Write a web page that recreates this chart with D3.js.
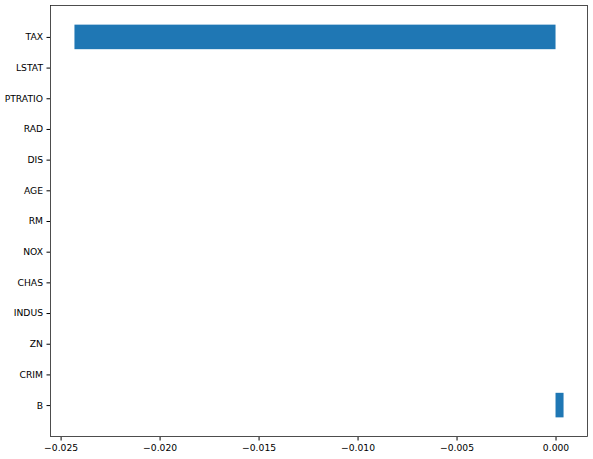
<!doctype html>
<html lang="en">
<head>
	<meta charset="utf-8">
	<title>Coefficients</title>
	<script type="text/javascript" src="https://d3js.org/d3.v7.min.js"></script>
	<style>
		body { margin: 0; background: #fff; }
		text { font-family: "DejaVu Sans", sans-serif; font-size: 9.2px; fill: #000; }
	</style>
</head>
<body>
	<script type="text/javascript">
		var width = 593;
		var height = 459;
		var margin = {top: 5, right: 5, bottom: 22, left: 50};

		// bottom to top, as drawn
		var features = ["B", "CRIM", "ZN", "INDUS", "CHAS", "NOX", "RM", "AGE", "DIS", "RAD", "PTRATIO", "LSTAT", "TAX"];
		var coefs = [0.000405, 0, 0, 0, 0, 0, 0, 0, 0, 0, 0, 0, -0.0243];
		var xTicks = [-0.025, -0.020, -0.015, -0.010, -0.005, 0.000];

		var svg = d3.select("body")
			.append("svg")
			.attr("width", width)
			.attr("height", height);

		// matplotlib-like 5% margins around the data
		var lo = d3.min(coefs), hi = d3.max(coefs);
		var pad = (hi - lo) * 0.05;
		var x = d3.scaleLinear()
			.domain([lo - pad, hi + pad])
			.range([margin.left, width - margin.right]);

		var n = features.length;
		var ypad = (n - 1 + 0.8) * 0.05;
		var y = d3.scaleLinear()
			.domain([-0.4 - ypad, n - 1 + 0.4 + ypad])
			.range([height - margin.bottom, margin.top]);
		var barH = Math.abs(y(0.8) - y(0));

		svg.selectAll("rect.bar")
			.data(coefs)
			.enter()
			.append("rect")
			.attr("class", "bar")
			.attr("x", function(d) { return x(Math.min(0, d)); })
			.attr("width", function(d) { return Math.abs(x(d) - x(0)); })
			.attr("y", function(d, i) { return y(i) - barH / 2; })
			.attr("height", barH)
			.style("fill", "#1f77b4");

		var fmt = function(d) { return d3.format(".3f")(d).replace("-", "\u2212"); };

		svg.append("g")
			.attr("transform", "translate(0," + (height - margin.bottom) + ")")
			.call(d3.axisBottom(x).tickValues(xTicks).tickFormat(fmt).tickSizeOuter(0).tickSize(3.5).tickPadding(3.5))
			.call(function(g) { g.select(".domain").remove(); })
			.selectAll("text").style("font-size", "9.2px").style("font-family", "DejaVu Sans, sans-serif");

		svg.append("g")
			.attr("transform", "translate(" + margin.left + ",0)")
			.call(d3.axisLeft(y).tickValues(d3.range(n)).tickFormat(function(i) { return features[i]; }).tickSizeOuter(0).tickSize(3.5).tickPadding(3.5))
			.call(function(g) { g.select(".domain").remove(); })
			.selectAll("text").style("font-size", "9.2px").style("font-family", "DejaVu Sans, sans-serif");

		// frame
		svg.append("rect")
			.attr("x", margin.left + 0.5)
			.attr("y", margin.top + 0.5)
			.attr("width", width - margin.left - margin.right - 1)
			.attr("height", height - margin.top - margin.bottom - 1)
			.style("fill", "none")
			.style("stroke", "#222")
			.style("stroke-width", 0.8);
	</script>
</body>
</html>
